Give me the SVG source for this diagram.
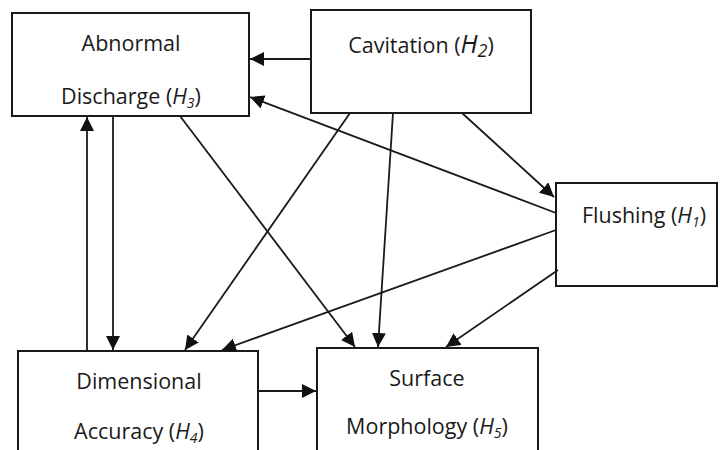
<svg xmlns="http://www.w3.org/2000/svg" width="720" height="450" viewBox="0 0 720 450">
<defs>
<marker id="ahb" viewBox="0 0 10 10" refX="10" refY="5" markerWidth="14" markerHeight="14" markerUnits="userSpaceOnUse" orient="auto">
<path d="M0,0 L10,5 L0,10 z" fill="#111"/>
</marker>
<style>
.box{fill:#fff;stroke:#1a1a1a;stroke-width:2}
.t{font-family:"Open Sans","Liberation Sans",sans-serif;font-size:21.5px;fill:#1a1a1a;text-anchor:middle}
.c line{stroke:#1a1a1a;stroke-width:1.8;marker-end:url(#ahb)}
</style>
</defs>
<rect width="720" height="450" fill="#fff"/>
<g id="n3">
<rect class="box" x="12" y="13" width="237" height="103"/>
<text class="t" x="131" y="51">Abnormal</text>
<text class="t" x="131" y="104">Discharge (<tspan font-style="italic">H</tspan><tspan font-style="italic" font-size="14" dy="4">3</tspan><tspan dy="-4">)</tspan></text>
</g>
<g id="n2">
<rect class="box" x="311" y="10" width="220" height="103"/>
<text class="t" x="421" y="53">Cavitation (<tspan font-style="italic" font-size="25">H</tspan><tspan font-style="italic" font-size="18" dy="4">2</tspan><tspan dy="-4">)</tspan></text>
</g>
<g id="n1">
<rect class="box" x="556" y="183" width="161" height="103"/>
<text class="t" x="644" y="223">Flushing (<tspan font-style="italic">H</tspan><tspan font-style="italic" font-size="14" dy="4">1</tspan><tspan dy="-4">)</tspan></text>
</g>
<g id="n4">
<rect class="box" x="18" y="351" width="240" height="110"/>
<text class="t" x="139" y="389">Dimensional</text>
<text class="t" x="139" y="439">Accuracy (<tspan font-style="italic">H</tspan><tspan font-style="italic" font-size="14" dy="4">4</tspan><tspan dy="-4">)</tspan></text>
</g>
<g id="n5">
<rect class="box" x="317" y="348" width="221" height="112"/>
<text class="t" x="427" y="386">Surface</text>
<text class="t" x="427" y="434">Morphology (<tspan font-style="italic">H</tspan><tspan font-style="italic" font-size="14" dy="4">5</tspan><tspan dy="-4">)</tspan></text>
</g>
<g id="connectors" class="c">
<line x1="311" y1="59" x2="250" y2="59"/>
<line x1="556" y1="213" x2="250" y2="97"/>
<line x1="113" y1="116" x2="113" y2="350"/>
<line x1="87" y1="351" x2="87" y2="117"/>
<line x1="180" y1="116" x2="355" y2="347"/>
<line x1="350" y1="113" x2="185" y2="350"/>
<line x1="393" y1="113" x2="378" y2="347"/>
<line x1="462" y1="113" x2="554" y2="197"/>
<line x1="556" y1="230" x2="222" y2="350"/>
<line x1="558" y1="270" x2="446" y2="347"/>
<line x1="258" y1="391" x2="316" y2="391"/>
</g>
</svg>
